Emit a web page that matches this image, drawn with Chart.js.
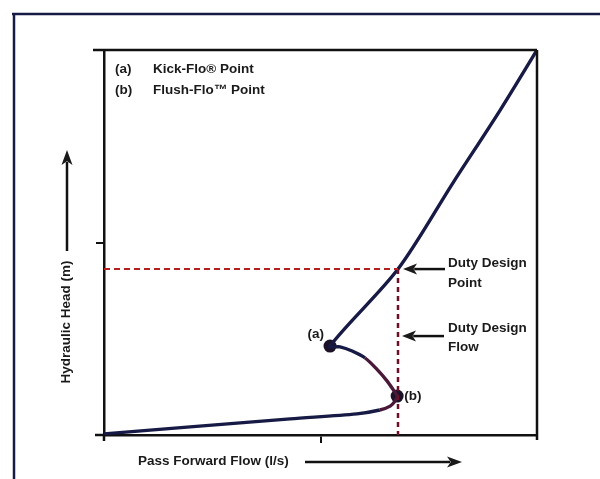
<!DOCTYPE html>
<html>
<head>
<meta charset="utf-8">
<script src="https://cdn.jsdelivr.net/npm/chart.js@4"></script>
<style>
  body { margin: 0; background: #fff; }
  #wrap { width: 600px; height: 479px; }
</style>
</head>
<body>
<div id="wrap"><canvas id="pumpChart" width="600" height="479"></canvas></div>
<script>
// pass forward flow (% of axis) and hydraulic head (% of axis)
const flow = [0, 19.9, 43.0, 58.4, 63.7, 66.1, 67.2, 67.7, 66.7, 65.4, 63.0, 60.3, 57.3, 54.5, 52.2, 67.9, 80.6, 91.5, 100];
const head = [0.3, 2.1, 4.2, 5.5, 6.5, 7.5, 8.8, 10.1, 11.9, 14.0, 17.1, 20.0, 21.8, 22.9, 23.1, 43.1, 65.5, 84.4, 100];
const kickFlo = [52.2, 23.1];   // (a)
const flushFlo = [67.7, 10.1];  // (b)
const dutyFlow = 67.9;
const dutyHead = 43.1;
const xTicks = [50];
const yTicks = [50];

const curve = flow.map((x, i) => ({ x, y: head[i] }));

const NAVY = "#171a45";
const FONT = 'bold 13.5px "Liberation Sans", Arial, sans-serif';

function arrow(ctx, x1, y1, x2, y2, len, half) {
  const a = Math.atan2(y2 - y1, x2 - x1);
  ctx.beginPath();
  ctx.moveTo(x1, y1);
  ctx.lineTo(x2 - Math.cos(a) * len * 0.8, y2 - Math.sin(a) * len * 0.8);
  ctx.stroke();
  ctx.beginPath();
  ctx.moveTo(x2, y2);
  ctx.lineTo(x2 - Math.cos(a) * len - Math.sin(a) * half, y2 - Math.sin(a) * len + Math.cos(a) * half);
  ctx.lineTo(x2 - Math.cos(a) * len * 0.75, y2 - Math.sin(a) * len * 0.75);
  ctx.lineTo(x2 - Math.cos(a) * len + Math.sin(a) * half, y2 - Math.sin(a) * len - Math.cos(a) * half);
  ctx.closePath();
  ctx.fill();
}

const decor = {
  id: "decor",
  afterDraw(chart) {
    const { ctx, chartArea: ca, scales: { x, y } } = chart;
    ctx.save();
    ctx.strokeStyle = NAVY;
    ctx.fillStyle = "#1a1a1a";
    ctx.lineWidth = 2.5;

    // outer frame
    ctx.beginPath();
    ctx.moveTo(12, 14); ctx.lineTo(600, 14);
    ctx.moveTo(14, 14); ctx.lineTo(14, 479);
    ctx.stroke();

    // plot box top / right, bottom axis overhang
    ctx.strokeStyle = "#111";
    ctx.beginPath();
    ctx.moveTo(ca.left - 11, ca.top); ctx.lineTo(ca.right, ca.top);
    ctx.moveTo(ca.right, ca.top); ctx.lineTo(ca.right, ca.bottom + 5);
    ctx.moveTo(ca.left - 9, ca.bottom); ctx.lineTo(ca.left, ca.bottom);
    ctx.moveTo(ca.left, ca.bottom); ctx.lineTo(ca.left, ca.bottom + 6);
    ctx.stroke();

    ctx.font = FONT;
    ctx.textBaseline = "middle";

    // legend notes
    ctx.fillText("(a)", ca.left + 11, ca.top + 19);
    ctx.fillText("Kick-Flo\u00ae Point", ca.left + 49, ca.top + 19);
    ctx.fillText("(b)", ca.left + 11, ca.top + 40);
    ctx.fillText("Flush-Flo\u2122 Point", ca.left + 49, ca.top + 40);

    // point labels
    const ax = x.getPixelForValue(kickFlo[0]), ay = y.getPixelForValue(kickFlo[1]);
    const bx = x.getPixelForValue(flushFlo[0]), by = y.getPixelForValue(flushFlo[1]);
    ctx.textAlign = "right";
    ctx.fillText("(a)", ax - 6, ay - 12);
    ctx.textAlign = "left";
    ctx.fillText("(b)", bx + 7, by);

    // duty design annotations
    const dx = x.getPixelForValue(dutyFlow), dy = y.getPixelForValue(dutyHead);
    ctx.lineWidth = 2.5;
    ctx.strokeStyle = "#111";
    arrow(ctx, dx + 47, dy, dx + 5, dy, 14, 5.5);
    ctx.fillText("Duty Design", dx + 50, dy - 6);
    ctx.fillText("Point", dx + 50, dy + 14);
    arrow(ctx, dx + 46, dy + 67, dx + 4, dy + 67, 14, 5.5);
    ctx.fillText("Duty Design", dx + 50, dy + 59);
    ctx.fillText("Flow", dx + 50, dy + 78);

    // axis titles with arrows
    ctx.fillText("Pass Forward Flow (l/s)", 138, 461);
    arrow(ctx, 305, 462, 462, 462, 15, 5.5);

    ctx.save();
    ctx.translate(66, 322);
    ctx.rotate(-Math.PI / 2);
    ctx.textAlign = "center";
    ctx.fillText("Hydraulic Head (m)", 0, 0);
    ctx.restore();
    arrow(ctx, 67, 251, 67, 150, 15, 5.5);

    ctx.restore();
  }
};

new Chart(document.getElementById("pumpChart"), {
  type: "scatter",
  data: {
    datasets: [
      {
        label: "Duty head",
        data: [{ x: 0, y: dutyHead }, { x: dutyFlow, y: dutyHead }],
        showLine: true,
        borderColor: "#b3201e",
        borderWidth: 2,
        borderDash: [6, 4],
        pointRadius: 0
      },
      {
        label: "Duty flow",
        data: [{ x: dutyFlow, y: dutyHead }, { x: dutyFlow, y: 0 }],
        showLine: true,
        borderColor: "#6b1028",
        borderWidth: 2.5,
        borderDash: [5, 4],
        pointRadius: 0
      },
      {
        label: "Head curve",
        data: curve,
        showLine: true,
        borderColor: NAVY,
        borderWidth: 3.4,
        tension: 0.3,
        pointRadius: 0,
        segment: {
          borderColor: c => (c.p0.parsed.y < 20 && c.p0.parsed.x > 60 ? "#4a1838" : NAVY)
        }
      },
      {
        label: "Points",
        data: [{ x: kickFlo[0], y: kickFlo[1] }, { x: flushFlo[0], y: flushFlo[1] }],
        pointRadius: 6.5,
        pointBackgroundColor: "#1c1228",
        pointBorderWidth: 0
      }
    ]
  },
  options: {
    responsive: false,
    animation: false,
    layout: { padding: { left: 0, top: 50, right: 63, bottom: 0 } },
    plugins: { legend: { display: false }, tooltip: { enabled: false } },
    scales: {
      x: {
        min: 0, max: 100,
        afterBuildTicks: s => { s.ticks = xTicks.map(v => ({ value: v })); },
        afterFit: s => { s.height = 44; },
        ticks: { callback: () => "" },
        grid: { drawOnChartArea: false, tickLength: 8, color: "#111", lineWidth: 2 },
        border: { display: true, color: "#111", width: 2.5 }
      },
      y: {
        min: 0, max: 100,
        afterBuildTicks: s => { s.ticks = yTicks.map(v => ({ value: v })); },
        afterFit: s => { s.width = 104; },
        ticks: { callback: () => "" },
        grid: { drawOnChartArea: false, tickLength: 8, color: "#111", lineWidth: 2 },
        border: { display: true, color: "#111", width: 2.5 }
      }
    }
  },
  plugins: [decor]
});
</script>
</body>
</html>
